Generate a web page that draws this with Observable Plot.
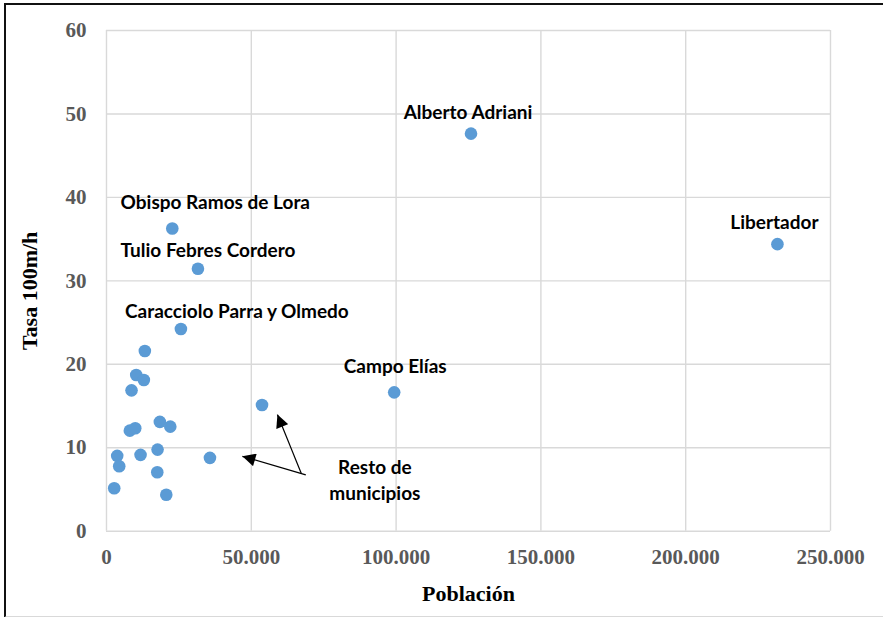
<!DOCTYPE html>
<html><head><meta charset="utf-8">
<script src="https://cdn.jsdelivr.net/npm/d3@7"></script>
<script src="https://cdn.jsdelivr.net/npm/@observablehq/plot@0.6"></script>
<style>
body{margin:0;background:#fff;}
#wrap{position:relative;width:883px;height:617px;overflow:hidden;}
#frame{position:absolute;left:4px;top:3px;width:900px;height:611px;border-top:2px solid #111;border-left:2px solid #111;border-bottom:2px solid #d9d9d9;pointer-events:none;}
</style></head><body>
<div id="wrap"><div id="chart"></div><div id="frame"></div></div>
<script>
// Data
const municipios = ["Obispo Ramos de Lora","Tulio Febres Cordero","Caracciolo Parra y Olmedo","","","","","","Campo Elías","","","","","","","","","","","","","Alberto Adriani","Libertador"];
const poblacion = [22718,31570,25692,13244,10270,12898,8645,53700,99343,8057,9924,18430,22026,3700,11757,17635,35720,4391,17531,2663,20643,125864,231674];
const tasa = [36.27,31.45,24.23,21.59,18.72,18.12,16.88,15.13,16.64,12.05,12.33,13.10,12.53,9.03,9.15,9.78,8.79,7.78,7.06,5.15,4.36,47.64,34.40];

const xTicks = [0,50000,100000,150000,200000,250000];
const yTicks = [0,10,20,30,40,50,60];

const restoLabel = ["Resto de\nmunicipios"];
const restoX = [92669];
const restoY = [6.25];
const arrowX1 = [68811, 67324];
const arrowY1 = [6.75, 6.87];
const arrowX2 = [46923, 59025];
const arrowY2 = [8.98, 13.97];

const data = municipios.map((m,i)=>({name:m, pob:poblacion[i], tasa:tasa[i]}));
const arrows = arrowX1.map((d,i)=>({x1:d, y1:arrowY1[i], x2:arrowX2[i], y2:arrowY2[i]}));
const resto = restoLabel.map((t,i)=>({t, x:restoX[i], y:restoY[i]}));

const fmt = d3.formatLocale({decimal:",", thousands:".", grouping:[3]}).format(",");

const labelFont = "Lato, 'Open Sans', sans-serif";
const labelStyle = {fontFamily: labelFont, fontWeight:"bold", fontSize:19, fill:"#000", textAnchor:"middle", lineAnchor:"middle"};
const offsets = [
  ["Obispo Ramos de Lora", 43, -25.5],
  ["Tulio Febres Cordero", 10, -18],
  ["Caracciolo Parra y Olmedo", 56, -17],
  ["Campo Elías", 1, -25],
  ["Alberto Adriani", -3, -21],
  ["Libertador", -3, -21]
];

const plot = Plot.plot({
  width: 883, height: 617,
  marginLeft: 106, marginRight: 53, marginTop: 30, marginBottom: 86.3,
  x: {domain:[0,250000], label:null},
  y: {domain:[0,60], label:null},
  style: {fontFamily:"'Liberation Serif', 'Times New Roman', serif", background:"white", overflow:"visible"},
  marks: [
    Plot.gridX(xTicks, {stroke:"#d9d9d9", strokeOpacity:1, strokeWidth:1.4}),
    Plot.gridY(yTicks, {stroke:"#d9d9d9", strokeOpacity:1, strokeWidth:1.4}),
    Plot.axisX(xTicks, {tickSize:0, tickPadding:18, tickFormat:fmt, fontSize:21, fontWeight:"bold", fill:"#595959", label:null}),
    Plot.axisY(yTicks, {tickSize:0, tickPadding:20, fontSize:21, fontWeight:"bold", fill:"#595959", label:null}),
    Plot.text(["Población"], {frameAnchor:"bottom", dy:62.3, fontSize:22, fontWeight:"bold", fill:"#000", lineAnchor:"middle", textAnchor:"middle"}),
    Plot.text(["Tasa 100m/h"], {frameAnchor:"left", dx:-77, dy:10, rotate:-90, fontSize:22, fontWeight:"bold", fill:"#000", lineAnchor:"middle", textAnchor:"middle"}),
    Plot.link(arrows, {x1:"x1", y1:"y1", x2:"x2", y2:"y2", stroke:"#000", strokeWidth:1.3}),
    Plot.dot(data, {x:"pob", y:"tasa", r:6.3, fill:"#5b9bd5", stroke:"none"}),
    ...offsets.map(([n,dx,dy]) => Plot.text(data.filter(d=>d.name===n), {x:"pob", y:"tasa", text:"name", dx, dy, ...labelStyle})),
    Plot.text(resto, {x:"x", y:"y", text:"t", lineHeight:1.35, ...labelStyle})
  ]
});
document.getElementById("chart").appendChild(plot);

// filled arrowheads
const svg = d3.select(plot);
const defs = svg.insert("defs", ":first-child");
defs.append("marker").attr("id","ahfill").attr("viewBox","0 0 10 10").attr("refX",10).attr("refY",5)
  .attr("markerUnits","userSpaceOnUse").attr("markerWidth",14).attr("markerHeight",13).attr("orient","auto")
  .append("path").attr("d","M0,0L10,5L0,10Z").attr("fill","#000").attr("stroke","none");
svg.selectAll("g[aria-label=link] path, g[aria-label=link] line").attr("marker-end","url(#ahfill)");
</script>
</body></html>
